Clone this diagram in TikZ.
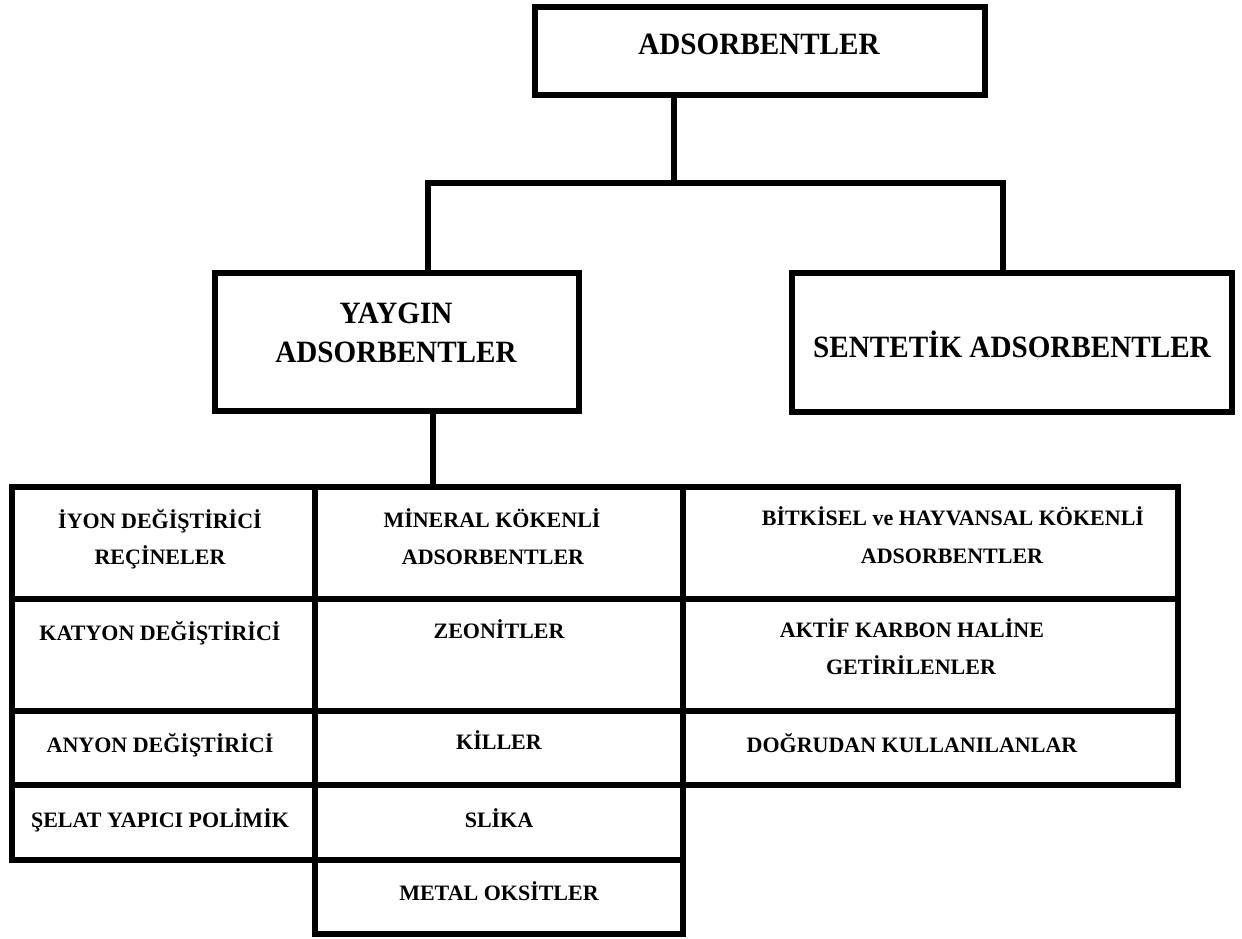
\documentclass[tikz,border=0pt]{standalone}
\usepackage{fontspec}
\setmainfont{Liberation Serif}
\newfontfamily\headfont[FakeStretch=0.94]{Liberation Serif}
\begin{document}
\begin{tikzpicture}[x=1pt,y=-1pt,
  box/.style={draw, line width=5.5pt, inner sep=0pt, outer sep=0pt},
  cell/.style={draw, line width=5.5pt, inner sep=0pt, outer sep=0pt},
  conn/.style={line width=5.5pt, line join=miter},
  head/.style={font=\headfont\bfseries\fontsize{31}{39}\selectfont, anchor=base, inner sep=0pt},
  txt/.style={font=\bfseries\fontsize{22}{36}\selectfont, anchor=base, inner sep=0pt}]
\useasboundingbox (0,0) rectangle (1242,938);

% upper boxes
\node[box, minimum width=450, minimum height=88] (top) at (760,51) {};
\node[box, minimum width=364, minimum height=138] (yaygin) at (397,342) {};
\node[box, minimum width=440, minimum height=139] (sentetik) at (1012,342.5) {};

\node[head] (ttop) at (759,54) {ADSORBENTLER};
\node[head] (ty1) at (396,323) {YAYGIN};
\node[head] (ty2) at (396,362) {ADSORBENTLER};
\node[head] (ts) at (1012,357) {SENTETİK ADSORBENTLER};

% table cells
\node[cell, minimum width=303, minimum height=112] (c11) at (163.5,543) {};
\node[cell, minimum width=368, minimum height=112] (c12) at (499,543) {};
\node[cell, minimum width=495, minimum height=112] (c13) at (930.5,543) {};
\node[cell, minimum width=303, minimum height=112] (c21) at (163.5,655) {};
\node[cell, minimum width=368, minimum height=112] (c22) at (499,655) {};
\node[cell, minimum width=495, minimum height=112] (c23) at (930.5,655) {};
\node[cell, minimum width=303, minimum height=74] (c31) at (163.5,748) {};
\node[cell, minimum width=368, minimum height=74] (c32) at (499,748) {};
\node[cell, minimum width=495, minimum height=74] (c33) at (930.5,748) {};
\node[cell, minimum width=303, minimum height=75] (c41) at (163.5,822.5) {};
\node[cell, minimum width=368, minimum height=75] (c42) at (499,822.5) {};
\node[cell, minimum width=368, minimum height=74] (c52) at (499,897) {};

% connectors
\coordinate (jt) at (674,183);
\coordinate (jl) at (428,183);
\coordinate (jr) at (1003,183);
\coordinate (jy) at (433,450);
\draw[conn] (top.south -| jt) -- (jt);
\draw[conn] (yaygin.north -| jl) -- (jl) -- (jr) -- (sentetik.north -| jr);
\draw[conn] (yaygin.south -| jy) -- (c12.north -| jy);

% table texts
\node[txt] (a1) at (160,528) {İYON DEĞİŞTİRİCİ};
\node[txt] (a2) at (160,564) {REÇİNELER};
\node[txt] (b1) at (492,527) {MİNERAL KÖKENLİ};
\node[txt] (b2) at (493,564) {ADSORBENTLER};
\node[txt] (d1) at (953,525) {BİTKİSEL ve HAYVANSAL KÖKENLİ};
\node[txt] (d2) at (952,563) {ADSORBENTLER};
\node[txt] (a3) at (160,640) {KATYON DEĞİŞTİRİCİ};
\node[txt] (b3) at (499,638) {ZEONİTLER};
\node[txt] (d3) at (912,637) {AKTİF KARBON HALİNE};
\node[txt] (d4) at (911,674) {GETİRİLENLER};
\node[txt] (a4) at (160,752) {ANYON DEĞİŞTİRİCİ};
\node[txt] (b4) at (499,749) {KİLLER};
\node[txt] (d5) at (912,752) {DOĞRUDAN KULLANILANLAR};
\node[txt] (a5) at (160,827) {ŞELAT YAPICI POLİMİK};
\node[txt] (b5) at (499,827) {SLİKA};
\node[txt] (b6) at (499,900) {METAL OKSİTLER};
\end{tikzpicture}
\end{document}
